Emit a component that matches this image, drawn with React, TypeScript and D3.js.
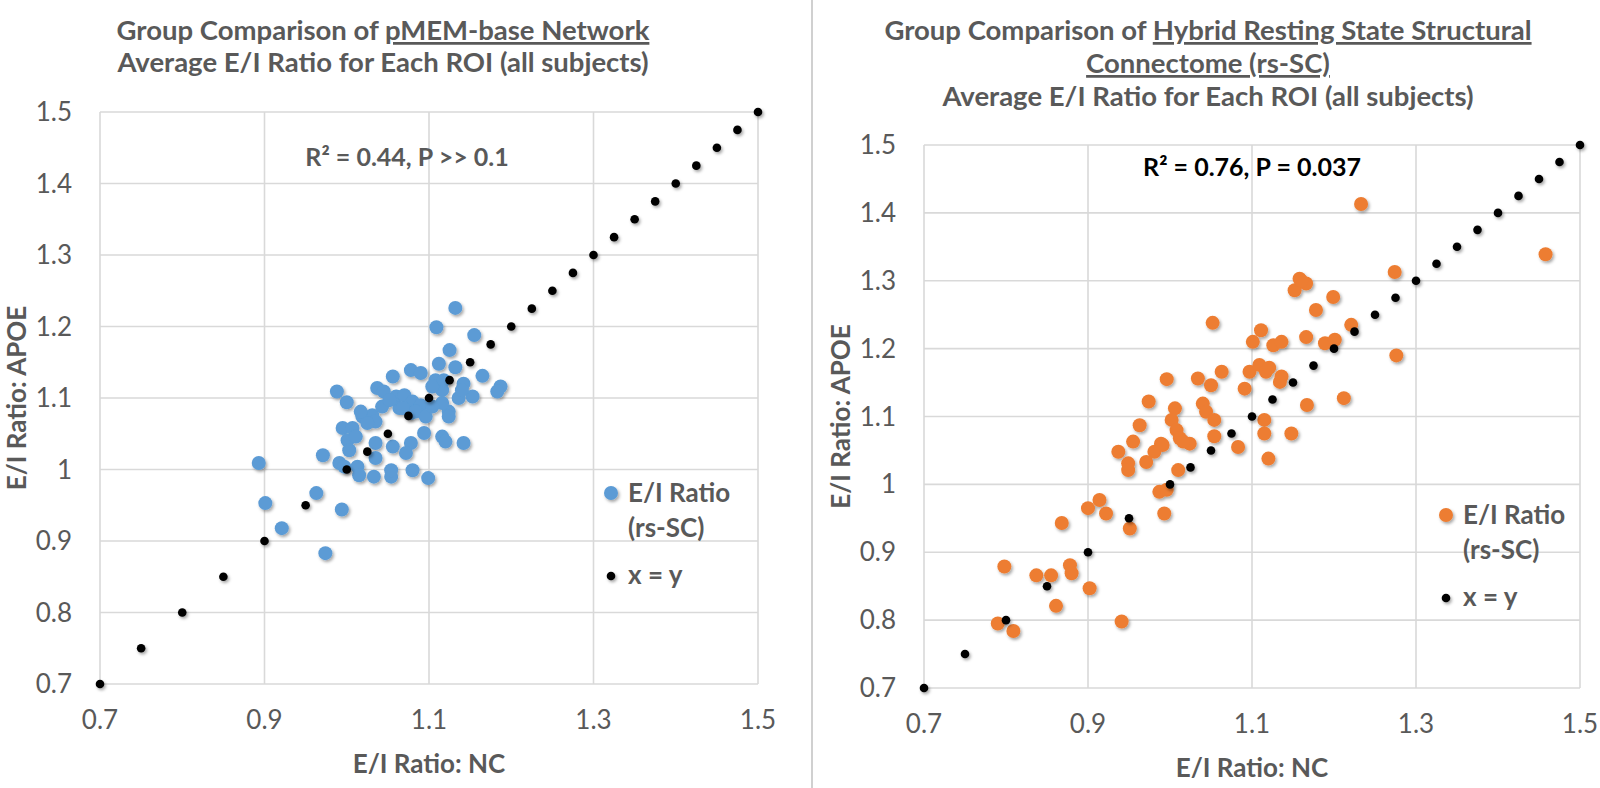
import React from "react";
import * as d3 from "d3";

const W = 1600;
const H = 788;

// ---------- shared axis data ----------
const xTicks = [0.7, 0.9, 1.1, 1.3, 1.5];
const xTickLabels = ["0.7", "0.9", "1.1", "1.3", "1.5"];
const yTicks = [0.7, 0.8, 0.9, 1.0, 1.1, 1.2, 1.3, 1.4, 1.5];
const yTickLabels = ["0.7", "0.8", "0.9", "1", "1.1", "1.2", "1.3", "1.4", "1.5"];

// x = y reference series
const identityVals = [
  0.7, 0.75, 0.8, 0.85, 0.9, 0.95, 1.0, 1.025, 1.05, 1.075, 1.1, 1.125, 1.15,
  1.175, 1.2, 1.225, 1.25, 1.275, 1.3, 1.325, 1.35, 1.375, 1.4, 1.425, 1.45,
  1.475, 1.5,
];

// ---------- left panel: pMEM-base network ----------
const pmemNC = [
  1.132, 1.109, 1.155, 1.125, 1.112, 1.132, 1.078, 1.09, 1.056, 1.165, 1.142,
  1.187, 1.183, 0.988, 1.037, 1.0, 1.153, 1.136, 1.116, 1.124, 1.124, 1.045,
  1.06, 1.07, 1.08, 1.09, 1.064, 1.078, 1.108, 1.104, 1.116, 1.118, 1.019,
  1.031, 1.035, 1.025, 0.995, 1.007, 1.001, 1.011, 1.003, 1.035, 1.056, 1.078,
  1.072, 1.094, 1.116, 1.12, 1.142, 1.035, 0.971, 0.991, 0.997, 1.013, 1.015,
  1.033, 1.054, 1.054, 1.08, 1.099, 0.893, 0.901, 0.963, 0.994, 0.921, 0.974,
  1.017, 1.043, 1.052, 1.068, 1.084, 1.096, 1.104, 1.14,
];
const pmemAPOE = [
  1.226, 1.199, 1.188, 1.167, 1.148, 1.143, 1.139, 1.135, 1.13, 1.131, 1.12,
  1.116, 1.109, 1.109, 1.114, 1.094, 1.102, 1.1, 1.111, 1.081, 1.074, 1.109,
  1.102, 1.104, 1.095, 1.09, 1.086, 1.079, 1.125, 1.116, 1.093, 1.125, 1.074,
  1.076, 1.067, 1.065, 1.058, 1.058, 1.041, 1.046, 1.027, 1.037, 1.032, 1.037,
  1.023, 1.051, 1.046, 1.039, 1.037, 1.016, 1.02, 1.009, 1.004, 1.004, 0.992,
  0.99, 0.99, 0.999, 0.999, 0.988, 1.009, 0.953, 0.967, 0.944, 0.918, 0.883,
  1.081, 1.088, 1.097, 1.086, 1.081, 1.074, 1.088, 1.111,
];

// ---------- right panel: hybrid rs-SC ----------
const rsscNC = [
  1.158, 1.166, 1.152, 1.199, 1.178, 1.052, 1.221, 1.111, 1.101, 1.126, 1.136,
  1.166, 1.189, 1.201, 0.996, 1.034, 1.05, 1.063, 1.097, 1.109, 1.117, 1.136,
  1.134, 1.091, 0.974, 1.167, 1.212, 1.006, 1.04, 1.044, 1.054, 1.002, 0.963,
  1.008, 1.012, 1.024, 1.054, 1.115, 1.115, 1.148, 1.083, 1.12, 0.955, 0.937,
  0.989, 0.981, 0.971, 0.949, 0.949, 1.01, 0.987, 0.996, 0.914, 0.9, 0.922,
  0.993, 0.951, 1.016, 1.233, 1.458, 1.274, 1.276, 0.868, 0.798, 0.837, 0.855,
  0.878, 0.88, 0.902, 0.861, 0.941, 0.79, 0.809, 0.991, 1.121, 1.16,
];
const rsscAPOE = [
  1.303, 1.296, 1.286, 1.276, 1.257, 1.238, 1.235, 1.227, 1.21, 1.205, 1.21,
  1.217, 1.208, 1.213, 1.155, 1.156, 1.146, 1.166, 1.166, 1.176, 1.166, 1.159,
  1.151, 1.141, 1.122, 1.117, 1.127, 1.112, 1.119, 1.107, 1.095, 1.095, 1.087,
  1.08, 1.068, 1.06, 1.071, 1.095, 1.075, 1.075, 1.055, 1.038, 1.063, 1.048,
  1.06, 1.048, 1.033, 1.031, 1.021, 1.021, 0.989, 0.992, 0.977, 0.965, 0.957,
  0.957, 0.935, 1.063, 1.413, 1.339, 1.313, 1.19, 0.943, 0.879, 0.866, 0.866,
  0.881, 0.869, 0.847, 0.821, 0.798, 0.795, 0.784, 1.058, 1.172, 1.3,
];

const GRID = "#D9D9D9";
const TXT = "#595959";
const FONT = "Lato, 'Open Sans', sans-serif";

type TitlePart = { text: string; u?: boolean };

type PanelProps = {
  xs: number[];
  ys: number[];
  color: string;
  x0: number;
  x1: number;
  y0: number;
  y1: number;
  titleLines: TitlePart[][];
  titleX: number;
  titleY: number[];
  note: string;
  noteX: number;
  noteY: number;
  noteColor: string;
  yTitleX: number;
  legX: number;
  legY: number;
};

function Panel(p: PanelProps) {
  const x = d3.scaleLinear().domain([0.7, 1.5]).range([p.x0, p.x1]);
  const y = d3.scaleLinear().domain([0.7, 1.5]).range([p.y1, p.y0]);
  const cy = (p.y0 + p.y1) / 2;
  const cx = (p.x0 + p.x1) / 2;
  return (
    <g fontFamily={FONT}>
      {/* gridlines */}
      {yTicks.map((t) => (
        <line key={"gy" + t} x1={p.x0} x2={p.x1} y1={y(t)} y2={y(t)} stroke={GRID} strokeWidth={1.6} />
      ))}
      {xTicks.map((t) => (
        <line key={"gx" + t} x1={x(t)} x2={x(t)} y1={p.y0} y2={p.y1} stroke={GRID} strokeWidth={1.6} />
      ))}
      {/* tick labels */}
      {yTicks.map((t, i) => (
        <text key={"ly" + t} x={p.x0 - 28} y={y(t)} dy="0.35em" textAnchor="end" fontSize={26} fill={TXT}>
          {yTickLabels[i]}
        </text>
      ))}
      {xTicks.map((t, i) => (
        <text key={"lx" + t} x={x(t)} y={p.y1 + 36} dy="0.35em" textAnchor="middle" fontSize={26} fill={TXT}>
          {xTickLabels[i]}
        </text>
      ))}
      {/* axis titles */}
      <text x={cx} y={p.y1 + 80} dy="0.35em" textAnchor="middle" fontSize={26} fontWeight="bold" fill={TXT}>
        E/I Ratio: NC
      </text>
      <text
        transform={`translate(${p.yTitleX},${cy}) rotate(-90)`}
        dy="0.35em"
        textAnchor="middle"
        fontSize={26}
        fontWeight="bold"
        fill={TXT}
      >
        E/I Ratio: APOE
      </text>
      {/* title */}
      {p.titleLines.map((line, li) => (
        <text key={"t" + li} x={p.titleX} y={p.titleY[li]} textAnchor="middle" fontSize={27.5} fontWeight="bold" fill={TXT}>
          {line.map((part, pi) => (
            <tspan key={pi} textDecoration={part.u ? "underline" : undefined}>
              {part.text}
            </tspan>
          ))}
        </text>
      ))}
      {/* annotation */}
      <text x={p.noteX} y={p.noteY} textAnchor="middle" fontSize={25} fontWeight="bold" fill={p.noteColor}>
        R² = {p.note}
      </text>
      {/* data */}
      <g filter="url(#shadow)">
        {p.xs.map((v, i) => (
          <circle key={"d" + i} cx={x(v)} cy={y(p.ys[i])} r={7} fill={p.color} />
        ))}
      </g>
      <g filter="url(#shadow)">
        {identityVals.map((v) => (
          <circle key={"i" + v} cx={x(v)} cy={y(v)} r={4.3} fill="#000" />
        ))}
      </g>
      {/* legend */}
      <g filter="url(#shadow)">
        <circle cx={p.legX} cy={p.legY} r={7} fill={p.color} />
        <circle cx={p.legX} cy={p.legY + 83} r={4.3} fill="#000" />
      </g>
      <text x={p.legX + 17} y={p.legY} dy="0.36em" fontSize={26} fontWeight="bold" fill={TXT}>
        E/I Ratio
      </text>
      <text x={p.legX + 17} y={p.legY + 35} dy="0.36em" fontSize={26} fontWeight="bold" fill={TXT}>
        (rs-SC)
      </text>
      <text x={p.legX + 17} y={p.legY + 83} dy="0.3em" fontSize={26} fontWeight="bold" fill={TXT}>
        x = y
      </text>
    </g>
  );
}

export default function App() {
  return (
    <svg width={W} height={H} style={{ position: "absolute", left: 0, top: 0, background: "#fff" }}>
      <defs>
        <filter id="shadow" x="-50%" y="-50%" width="200%" height="200%">
          <feDropShadow dx="1.5" dy="2" stdDeviation="1.5" floodColor="#000" floodOpacity="0.35" />
        </filter>
      </defs>
      <rect x={0} y={0} width={W} height={H} fill="#fff" />
      <line x1={812} x2={812} y1={0} y2={H} stroke="#D0D0D0" strokeWidth={2} />
      <Panel
        xs={pmemNC}
        ys={pmemAPOE}
        color="#5B9BD5"
        x0={100}
        x1={758}
        y0={112}
        y1={684}
        titleLines={[
          [{ text: "Group Comparison of " }, { text: "pMEM-base Network", u: true }],
          [{ text: "Average E/I Ratio for Each ROI (all subjects)" }],
        ]}
        titleX={383}
        titleY={[40, 72]}
        note="0.44, P >> 0.1"
        noteX={407}
        noteY={166}
        noteColor={TXT}
        yTitleX={17}
        legX={611}
        legY={493}
      />
      <Panel
        xs={rsscNC}
        ys={rsscAPOE}
        color="#ED7D31"
        x0={924}
        x1={1580}
        y0={145}
        y1={688}
        titleLines={[
          [{ text: "Group Comparison of " }, { text: "Hybrid Resting State Structural", u: true }],
          [{ text: "Connectome (rs-SC)", u: true }],
          [{ text: "Average E/I Ratio for Each ROI (all subjects)" }],
        ]}
        titleX={1208}
        titleY={[40, 73, 106]}
        note="0.76, P = 0.037"
        noteX={1252}
        noteY={176}
        noteColor="#000"
        yTitleX={841}
        legX={1446}
        legY={515}
      />
    </svg>
  );
}
